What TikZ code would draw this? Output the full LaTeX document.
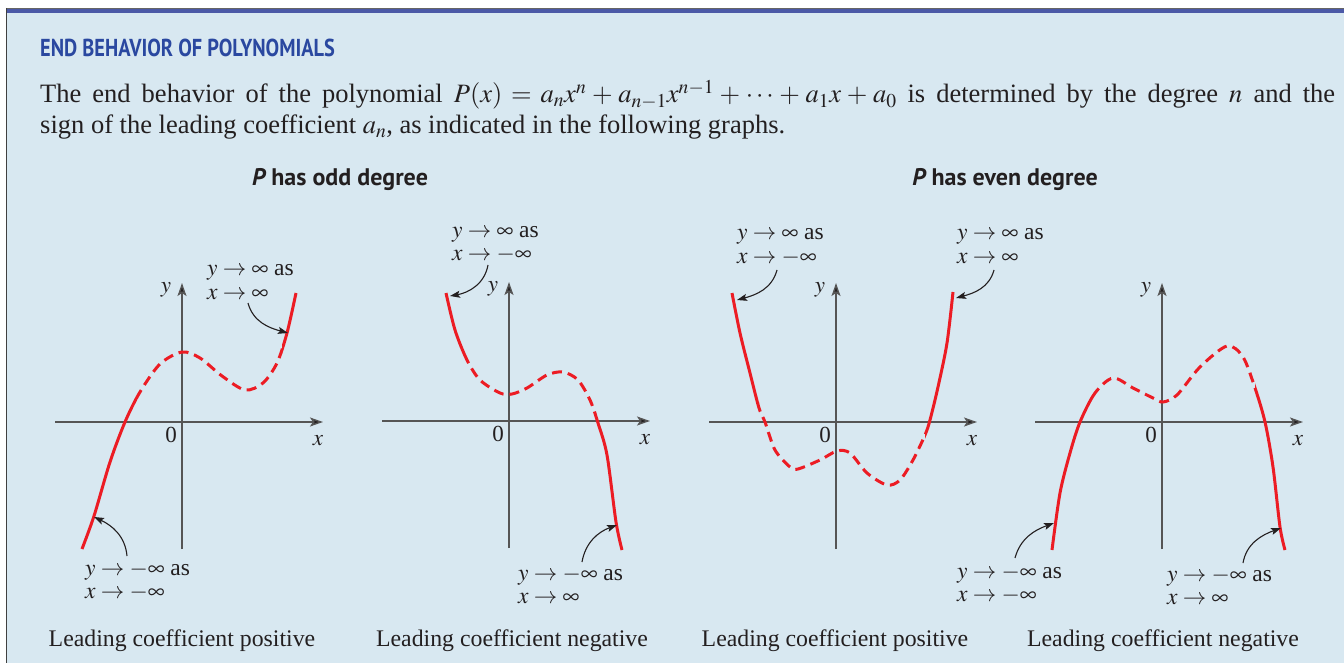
\documentclass[tikz,border=0pt]{standalone}
\usepackage{mathptmx}
\usepackage[no-math]{fontspec}
\setmainfont{Liberation Serif}
\newfontfamily\headfont{PT Sans}
\usetikzlibrary{arrows.meta}
\definecolor{bgblue}{HTML}{D8E8F1}
\definecolor{barblue}{HTML}{4B59A7}
\definecolor{titleblue}{HTML}{2A48A0}
\definecolor{curvered}{HTML}{EC1C24}
\definecolor{axisgray}{HTML}{555555}
\definecolor{textdark}{HTML}{231F20}
\newcommand\polyaxes[3]{%
  \coordinate (#1l) at (#2-127,#3);
  \coordinate (#1r) at (#2+141,#3);
  \coordinate (#1b) at (#2,#3+127);
  \coordinate (#1t) at (#2,#3-139);
  \draw[axisline] (#1l) -- (#1r);
  \draw[axisline] (#1b) -- (#1t);
  \node[axlabel] (#1ylab) at (#2-16,#3-130) {$y$};
  \node[axlabel] (#1zero) at (#2-11,#3+20) {0};
  \node[axlabel] (#1xlab) at (#2+136,#3+23) {$x$};
}
\newcommand\curveone[1]{\draw[#1] plot[smooth] coordinates {(82,549) (94,516) (110,462) (125,422) (140,392) (160,364) (182,352) (200,358) (222,376) (245,390) (263,383) (277,363) (287,333) (296,293)};}
\newcommand\curvetwo[1]{\draw[#1] plot[smooth] coordinates {(446,293) (455,330) (467,360) (480,380) (500,393) (512,394) (527,388) (547,375) (563,372) (578,380) (590,400) (598,423) (607,455) (616,522) (622,550)};}
\newcommand\curvethree[1]{\draw[#1] plot[smooth] coordinates {(732,293) (740,333) (750,373) (759,408) (765,422) (775,450) (790,467) (798,469) (820,460) (837,451) (850,453) (867,473) (887,485) (900,480) (913,460) (925,435) (930,420) (938,387) (947,343) (953,292)};}
\newcommand\curvefour[1]{\draw[#1] plot[smooth] coordinates {(1052,550) (1060,493) (1070,453) (1080,422) (1095,393) (1113,378) (1133,388) (1153,398) (1163,402) (1177,395) (1200,367) (1227,346) (1243,357) (1255,388) (1265,422) (1273,467) (1280,527) (1285,550)};}
\begin{document}
\begin{tikzpicture}[x=1pt,y=-1pt,
  axisline/.style={draw=axisgray, line width=1.4pt, -{Stealth[length=13pt,width=9pt,inset=3pt,fill=textdark]}},
  curvesolid/.style={draw=curvered, line width=3pt},
  curvedash/.style={curvesolid, dash pattern=on 10pt off 6pt},
  note/.style={font=\fontsize{23.5}{25}\selectfont, anchor=base west, inner sep=0pt, text=textdark},
  noteA/.style={note, text depth=0pt},
  noteB/.style={note, text height=11pt},
  notearrow/.style={draw=textdark, line width=1.1pt, -{Stealth[length=10pt,width=7pt,inset=2pt]}},
  caption/.style={font=\fontsize{23.8}{28}\selectfont, anchor=base, inner sep=0pt, text=textdark},
  axlabel/.style={font=\fontsize{23}{24}\selectfont, inner sep=0pt, anchor=base, text=textdark},
  bodytext/.style={font=\fontsize{26.5}{30}\selectfont, anchor=base west, inner sep=0pt, text=textdark},
  heading/.style={font=\headfont\bfseries\fontsize{24}{26}\selectfont, anchor=base, inner sep=0pt, text=textdark},
]
\useasboundingbox (0,0) rectangle (1344,663);
% frame
\fill[white] (0,0) rectangle (1344,663);
\fill[bgblue] (6,13) rectangle (1344,663);
\fill[barblue] (6,8) rectangle (1344,13.5);
\draw[black!60, line width=0.8pt] (6,8.4) -- (1344,8.4);
\draw[black!75, line width=1.5pt] (6.5,8) -- (6.5,663);
% title and text
\node[font=\headfont\bfseries\fontsize{24.5}{26}\selectfont, anchor=base west, inner sep=0pt, text=titleblue] (title) at (40,57) {\scalebox{0.83}[1]{END BEHAVIOR OF POLYNOMIALS}};
\node[bodytext] (body1) at (40,103) {\makebox[1295pt][s]{The end behavior of the polynomial $P(x) = a_nx^n + a_{n-1}x^{n-1} + \cdots + a_1x + a_0$ is determined by the degree $n$ and the}};
\node[bodytext] (body2) at (40,134) {sign of the leading coefficient $a_n$, as indicated in the following graphs.};
\node[heading] (hodd) at (340,186) {{\itshape P} has odd degree};
\node[heading] (heven) at (1005,186) {{\itshape P} has even degree};
% axes
\polyaxes{A}{182}{422}
\polyaxes{B}{509}{421}
\polyaxes{C}{836}{422}
\polyaxes{D}{1162}{422}
% curves
\begin{scope}\clip (0,0) rectangle (137,663); \curveone{curvesolid} \end{scope}
\begin{scope}\clip (137,0) rectangle (282,663); \curveone{curvedash} \end{scope}
\begin{scope}\clip (282,0) rectangle (340,663); \curveone{curvesolid} \end{scope}
\begin{scope}\clip (340,0) rectangle (467,663); \curvetwo{curvesolid} \end{scope}
\begin{scope}\clip (467,0) rectangle (596,663); \curvetwo{curvedash} \end{scope}
\begin{scope}\clip (596,0) rectangle (670,663); \curvetwo{curvesolid} \end{scope}
\begin{scope}\clip (680,0) rectangle (759,663); \curvethree{curvesolid} \end{scope}
\begin{scope}\clip (759,0) rectangle (925,663); \curvethree{curvedash} \end{scope}
\begin{scope}\clip (925,0) rectangle (1000,663); \curvethree{curvesolid} \end{scope}
\begin{scope}\clip (1000,0) rectangle (1095,663); \curvefour{curvesolid} \end{scope}
\begin{scope}\clip (1095,0) rectangle (1255,663); \curvefour{curvedash} \end{scope}
\begin{scope}\clip (1255,0) rectangle (1344,663); \curvefour{curvesolid} \end{scope}
% annotations panel 1
\node[noteA] (a1) at (207,276) {$y \to \infty$ as};
\node[noteB] (a2) at (207,299) {$x \to \infty$};
\coordinate (a2s) at (248,303);
\coordinate (a2e) at (288,333);
\draw[notearrow] (a2s) to[out=-75,in=165] (a2e);
\node[noteA] (b1) at (85,575) {$y \to -\infty$ as};
\node[noteB] (b2) at (85,598) {$x \to -\infty$};
\coordinate (b1s) at (127,556);
\coordinate (b1e) at (94,517);
\draw[notearrow] (b1s) to[out=95,in=-25] (b1e);
% panel 2
\node[noteA] (c1) at (452,237) {$y \to \infty$ as};
\node[noteB] (c2) at (452,260) {$x \to -\infty$};
\coordinate (c2s) at (488,265);
\coordinate (c2e) at (450,296);
\draw[notearrow] (c2s) to[out=-100,in=10] (c2e);
\node[noteA] (d1) at (518,580) {$y \to -\infty$ as};
\node[noteB] (d2) at (518,603) {$x \to \infty$};
\coordinate (d1s) at (582,562);
\coordinate (d1e) at (617,525);
\draw[notearrow] (d1s) to[out=80,in=200] (d1e);
% panel 3
\node[noteA] (e1) at (737,240) {$y \to \infty$ as};
\node[noteB] (e2) at (737,263) {$x \to -\infty$};
\coordinate (e2s) at (777,270);
\coordinate (e2e) at (737,300);
\draw[notearrow] (e2s) to[out=-105,in=15] (e2e);
\node[noteA] (f1) at (957,240) {$y \to \infty$ as};
\node[noteB] (f2) at (957,263) {$x \to \infty$};
\coordinate (f2s) at (994,270);
\coordinate (f2e) at (956,298);
\draw[notearrow] (f2s) to[out=-105,in=15] (f2e);
% panel 4
\node[noteA] (g1) at (957,578) {$y \to -\infty$ as};
\node[noteB] (g2) at (957,601) {$x \to -\infty$};
\coordinate (g1s) at (1015,558);
\coordinate (g1e) at (1054,523);
\draw[notearrow] (g1s) to[out=75,in=200] (g1e);
\node[noteA] (h1) at (1167,581) {$y \to -\infty$ as};
\node[noteB] (h2) at (1167,604) {$x \to \infty$};
\coordinate (h1s) at (1243,563);
\coordinate (h1e) at (1281,528);
\draw[notearrow] (h1s) to[out=80,in=200] (h1e);
% captions
\node[caption] (cap1) at (182,646) {Leading coefficient positive};
\node[caption] (cap2) at (512,646) {Leading coefficient negative};
\node[caption] (cap3) at (835,646) {Leading coefficient positive};
\node[caption] (cap4) at (1163,646) {Leading coefficient negative};
\end{tikzpicture}
\end{document}
